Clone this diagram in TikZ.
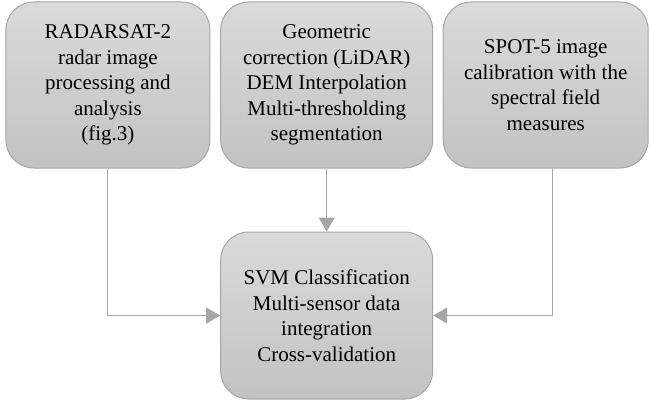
\documentclass[tikz,border=0pt]{standalone}
\usepackage{fontspec}
\setmainfont{Liberation Serif}
\usetikzlibrary{arrows.meta}
\definecolor{boxtop}{RGB}{218,218,218}
\definecolor{boxbot}{RGB}{194,194,194}
\definecolor{boxline}{RGB}{166,166,166}

\begin{document}
\begin{tikzpicture}[x=1pt,y=1pt,
    box/.style={draw=boxline, line width=1pt, rounded corners=28pt,
        top color=boxtop, bottom color=boxbot, align=center,
        minimum height=166pt, inner sep=0pt,
        font=\fontsize{21}{25.5}\selectfont},
    link/.style={draw=boxline, line width=1pt,
        -{Triangle[length=14pt,width=16pt]}}]
    \useasboundingbox (0,0) rectangle (650,400);

    \node[box, minimum width=204pt] (1) at (107.9,315) {RADARSAT-2\\radar image\\processing and\\analysis\\(fig.3)};
    \node[box, minimum width=212pt] (2) at (326.7,315) {Geometric\\correction (LiDAR)\\DEM Interpolation\\Multi-thresholding\\segmentation};
    \node[box, minimum width=205pt] (3) at (545.7,315) {SPOT-5 image\\calibration with the\\spectral field\\measures};
    \node[box, minimum width=212pt, minimum height=167pt] (4) at (326.7,84.5) {SVM Classification\\Multi-sensor data\\integration\\Cross-validation};

    \path[link] (1) |- (4);
    \path[link] (2) -- (4);
    \path[link] ([xshift=6.6pt]3.south) |- (4.east);
\end{tikzpicture}
\end{document}
